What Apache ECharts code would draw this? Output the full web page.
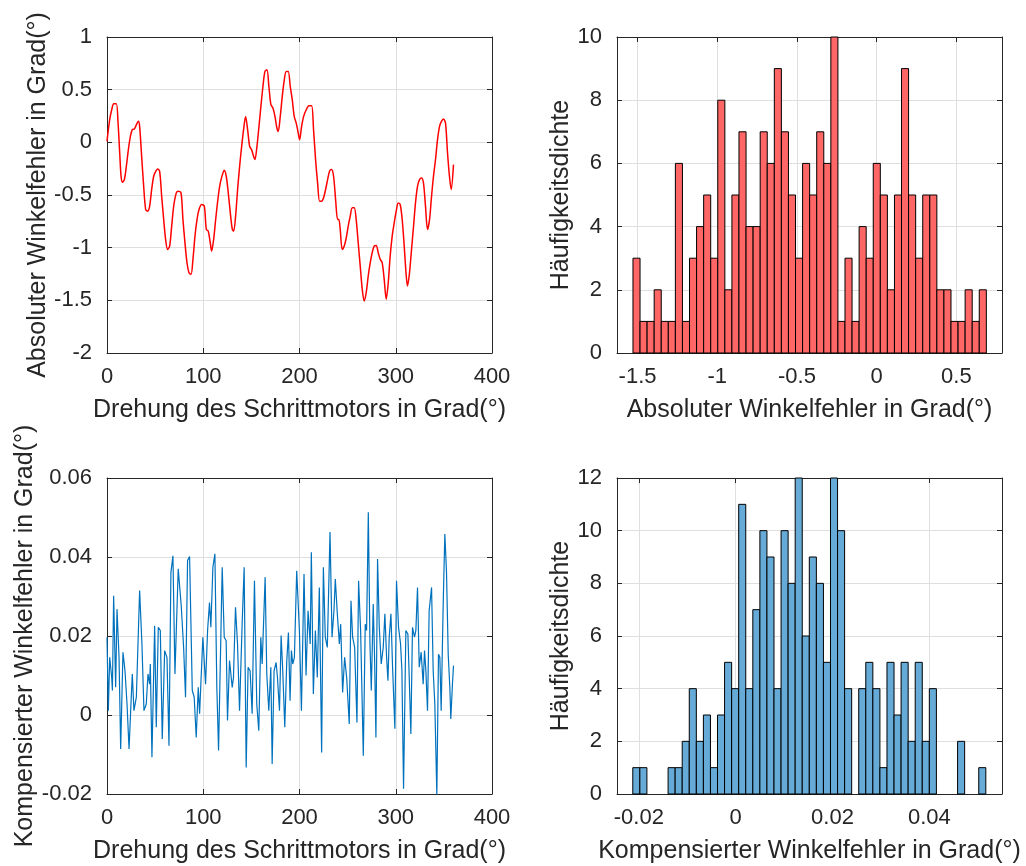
<!DOCTYPE html>
<html>
<head>
<meta charset="utf-8">
<script src="https://cdn.jsdelivr.net/npm/echarts@6/dist/echarts.min.js"></script>
<style>
html, body { margin: 0; padding: 0; background: #fff; }
#chart { width: 1026px; height: 866px; }
</style>
</head>
<body>
<div id="chart"></div>
<script>
// absolute error vs. motor angle (degrees)
var angleTop = [0,2.8,4.9,7.0,9.7,11.5,13.2,14.6,16.0,18.0,20.1,22.2,24.3,26.3,28.4,30.5,32.6,33.9,36.0,38.1,40.2,42.3,44.3,46.4,48.5,50.6,52.6,54.7,56.8,58.9,60.9,63.0,65.1,67.2,69.3,72.0,74.1,76.9,78.9,81.0,83.1,85.2,87.3,89.3,91.4,93.5,95.6,98.3,101.1,103.2,105.2,107.3,108.7,110.8,112.9,115.6,117.7,120.5,121.9,123.9,126.0,128.1,130.2,131.6,133.6,135.7,137.8,139.9,141.9,144.0,146.1,148.2,150.2,152.3,153.7,155.8,157.9,159.9,162.0,164.1,166.2,168.2,170.3,172.4,174.5,176.5,177.9,180.0,182.1,184.2,186.2,188.3,190.4,192.5,194.5,196.6,198.7,
  200.1,202.2,204.3,207.0,209.8,212.6,214.6,216.7,218.8,220.9,222.9,225.0,227.1,229.2,231.2,233.3,235.4,237.5,239.6,240.9,242.3,244.4,246.5,248.6,250.6,252.7,254.8,256.9,258.9,261.0,263.1,265.2,267.2,269.3,271.4,273.5,275.5,277.6,279.7,281.8,283.9,285.9,288.0,290.1,292.2,294.2,296.3,298.4,300.5,302.5,304.6,306.7,308.8,310.9,312.2,314.3,316.4,318.5,320.5,322.6,324.7,326.8,328.8,330.9,333.0,335.1,337.2,339.2,341.3,343.4,345.5,347.5,349.6,351.7,353.8,355.8,357.6,360];
var errTop = [0.01,0.215,0.309,0.366,0.366,0.183,-0.101,-0.322,-0.379,-0.354,-0.227,-0.069,0.057,0.12,0.126,0.167,0.199,0.152,-0.133,-0.417,-0.638,-0.654,-0.606,-0.448,-0.322,-0.275,-0.253,-0.275,-0.512,-0.733,-0.922,-1.017,-0.985,-0.796,-0.606,-0.48,-0.464,-0.48,-0.733,-0.954,-1.143,-1.238,-1.254,-1.111,-0.89,-0.733,-0.638,-0.59,-0.606,-0.827,-0.843,-0.954,-1.033,-0.922,-0.733,-0.512,-0.385,-0.29,-0.265,-0.322,-0.48,-0.669,-0.827,-0.843,-0.701,-0.448,-0.227,-0.038,0.12,0.246,0.12,-0.038,-0.069,-0.133,-0.164,-0.038,0.152,0.341,0.53,0.673,0.688,0.53,0.357,0.325,0.246,0.136,0.104,0.246,0.436,0.594,0.673,0.673,0.53,0.404,0.246,0.183,0.088,
  0.025,0.152,0.246,0.309,0.347,0.347,0.12,-0.164,-0.385,-0.559,-0.559,-0.527,-0.448,-0.354,-0.275,-0.259,-0.322,-0.543,-0.733,-0.733,-0.827,-1.017,-0.985,-0.906,-0.796,-0.701,-0.622,-0.622,-0.733,-0.954,-1.175,-1.396,-1.506,-1.427,-1.269,-1.143,-1.048,-0.985,-0.979,-1.048,-1.111,-1.143,-1.301,-1.49,-1.333,-1.08,-0.89,-0.764,-0.654,-0.575,-0.59,-0.733,-0.985,-1.269,-1.364,-1.238,-1.017,-0.796,-0.575,-0.417,-0.354,-0.338,-0.385,-0.606,-0.827,-0.733,-0.512,-0.322,-0.164,0.025,0.152,0.199,0.221,0.183,-0.101,-0.322,-0.448,-0.212];

// compensated error vs. motor angle
var angleBot = [0,1.4,2.8,4.9,5.6,6.9,9.0,10.4,12.5,14.2,16.6,18.7,20.8,22.9,24.9,26.3,28.0,30.5,32.2,33.9,36.3,38.4,40.8,42.6,44.3,45.0,46.7,49.5,51.2,53.3,55.4,57.4,59.9,62.3,64.4,66.4,68.5,70.6,74.0,77.1,79.6,81.6,83.7,85.8,88.6,90.6,92.7,94.8,96.2,99.6,102.4,104.5,106.5,107.9,110.0,112.1,114.1,115.9,118.3,119.7,121.8,123.8,125.2,127.3,130.1,131.4,133.5,135.6,137.7,140.4,142.5,144.6,146.6,148.7,150.8,153.2,155.6,157.7,159.8,161.2,162.6,164.3,166.0,168.1,170.2,171.6,173.6,175.7,177.1,179.2,180.9,182.6,184.7,186.8,188.5,190.2,191.6,193.0,194.7,197.1,
  199.9,202.0,204.7,206.8,208.9,211.1,212.3,214.4,216.5,218.5,220.6,223.0,224.8,226.8,228.9,231.7,233.8,235.8,237.2,239.3,241.4,242.8,244.8,246.9,249.0,251.7,253.5,255.2,257.3,259.7,261.4,263.5,266.3,268.3,269.7,271.5,273.2,274.6,276.6,278.0,279.4,281.1,282.9,284.9,287.0,288.7,290.5,291.9,293.2,295.0,296.7,299.1,300.8,302.9,305.0,306.4,308.1,310.5,312.6,314.0,315.7,317.4,319.5,320.9,322.6,324.4,326.4,328.5,329.9,331.3,333.0,334.7,337.2,338.9,340.6,342.7,344.4,345.8,347.2,349.3,351.0,352.7,354.5,356.2,357.2,358.9,360];
var errBot = [0.0197,0.0011,0.0146,0.0095,0.0062,0.0302,0.0070,0.0268,0.0146,-0.0086,0.0159,0.0112,0.0028,-0.0086,0.0028,0.0104,0.0011,0.0045,0.0045,0.0315,0.0180,0.0011,0.0028,0.0104,0.0078,0.0129,-0.0107,0.0226,-0.0031,0.0222,0.0214,-0.0061,0.0163,0.0146,-0.0078,0.0361,0.0403,0.0104,0.0370,0.0277,0.0171,0.0045,0.0391,0.0401,0.0062,0.0045,-0.0057,0.0070,0.0003,0.0197,0.0078,0.0214,0.0285,0.0222,0.0374,0.0408,0.0070,-0.0090,0.0201,0.0374,0.0197,0.0188,-0.0014,0.0138,0.0070,0.0095,0.0273,0.0180,0.0011,0.0230,0.0374,-0.0133,0.0121,0.0112,0.0003,0.0340,0.0028,-0.0040,0.0197,0.0129,0.0133,0.0349,0.0104,0.0011,0.0121,-0.0124,0.0112,0.0133,0.0095,0.0011,0.0201,0.0112,-0.0031,0.0138,0.0209,0.0036,0.0163,0.0129,0.0146,0.0365,
  0.0214,0.0011,0.0357,0.0100,0.0264,0.0180,0.0412,0.0053,0.0214,0.0095,0.0323,-0.0095,0.0374,0.0197,0.0171,0.0463,0.0197,0.0264,0.0344,0.0256,0.0180,0.0230,0.0057,0.0146,0.0095,-0.0023,0.0289,0.0197,0.0171,-0.0019,0.0340,0.0214,-0.0103,0.0230,0.0214,0.0513,0.0180,0.0062,0.0281,0.0146,-0.0057,0.0395,0.0222,0.0129,0.0171,0.0256,0.0146,0.0087,0.0197,0.0256,0.0121,-0.0035,0.0340,0.0222,0.0180,0.0112,-0.0187,0.0214,0.0205,0.0095,-0.0048,0.0222,0.0197,0.0214,0.0323,0.0121,0.0159,0.0078,0.0163,0.0112,0.0011,0.0264,0.0323,0.0112,0.0028,-0.0204,0.0154,0.0146,0.0011,0.0281,0.0458,0.0365,0.0154,0.0070,-0.0010,0.0078,0.0125];

// histogram counts, 50 bins each
var countsTop = [3,1,1,2,1,1,6,1,3,4,5,3,8,2,5,7,4,4,7,6,9,7,5,3,6,5,7,6,10,1,3,1,4,3,6,5,2,5,9,5,3,5,5,2,2,1,1,2,1,2];
var binStartTop = -1.5288, binWidthTop = 0.04433;
var countsBot = [1,1,0,0,0,1,1,2,4,2,3,1,3,5,4,11,4,7,10,9,4,10,8,12,6,9,8,5,12,10,4,0,4,5,4,1,5,3,5,2,5,2,4,0,0,0,2,0,0,1];
var binStartBot = -0.02124, binWidthBot = 0.001458;

// tick labels
var ticksAngle = [0, 100, 200, 300, 400];
var ticksErrTop = [-2, -1.5, -1, -0.5, 0, 0.5, 1];
var ticksHistTopX = [-1.5, -1, -0.5, 0, 0.5];
var ticksHistTopY = [0, 2, 4, 6, 8, 10];
var ticksErrBot = [-0.02, 0, 0.02, 0.04, 0.06];
var ticksHistBotX = [-0.02, 0, 0.02, 0.04];
var ticksHistBotY = [0, 2, 4, 6, 8, 10, 12];

var FONT = 'Liberation Sans';
var axisColor = '#262626';
var gridColor = '#dfdfdf';

function pairs(xs, ys) {
  var out = [];
  for (var i = 0; i < xs.length; i++) out.push([xs[i], ys[i]]);
  return out;
}

function bins(counts, start, width) {
  var out = [];
  for (var i = 0; i < counts.length; i++) {
    if (counts[i] > 0) out.push([start + i * width, start + (i + 1) * width, counts[i]]);
  }
  return out;
}

function histItem(fill) {
  return function (params, api) {
    var p0 = api.coord([api.value(0), api.value(2)]);
    var p1 = api.coord([api.value(1), 0]);
    return {
      type: 'rect',
      shape: { x: p0[0], y: p0[1], width: p1[0] - p0[0], height: p1[1] - p0[1] },
      style: { fill: fill, stroke: '#000', lineWidth: 1 }
    };
  };
}

function mainAxis(gi, pos, min, max, ticks, name, gap) {
  return {
    type: 'value', gridIndex: gi, position: pos, min: min, max: max,
    name: name, nameLocation: 'middle', nameGap: gap,
    nameTextStyle: { fontFamily: FONT, fontSize: 25, color: axisColor },
    axisLine: { show: true, onZero: false, lineStyle: { color: axisColor, width: 1 } },
    axisTick: { show: true, inside: true, length: 5, customValues: ticks, lineStyle: { color: axisColor } },
    axisLabel: { customValues: ticks, margin: (pos === 'bottom' ? 13 : 15), fontFamily: FONT, fontSize: 22, color: axisColor },
    splitLine: { show: true, lineStyle: { color: gridColor, width: 1 } }
  };
}

function boxAxis(gi, pos, min, max, ticks) {
  return {
    type: 'value', gridIndex: gi, position: pos, min: min, max: max,
    axisLine: { show: true, onZero: false, lineStyle: { color: axisColor, width: 1 } },
    axisTick: { show: true, inside: true, length: 5, customValues: ticks, lineStyle: { color: axisColor } },
    axisLabel: { show: false },
    splitLine: { show: false }
  };
}

var chart = echarts.init(document.getElementById('chart'));

var option = {
  animation: false,
  backgroundColor: '#fff',
  grid: [
    { left: 107, top: 37, width: 385, height: 316 },
    { left: 617, top: 37, width: 385, height: 316 },
    { left: 107, top: 478, width: 385, height: 316 },
    { left: 617, top: 478, width: 385, height: 316 }
  ],
  xAxis: [
    mainAxis(0, 'bottom', 0, 400, ticksAngle, 'Drehung des Schrittmotors in Grad(°)', 45),
    mainAxis(1, 'bottom', -1.629, 0.786, ticksHistTopX, 'Absoluter Winkelfehler in Grad(°)', 45),
    mainAxis(2, 'bottom', 0, 400, ticksAngle, 'Drehung des Schrittmotors in Grad(°)', 45),
    mainAxis(3, 'bottom', -0.0245, 0.055, ticksHistBotX, 'Kompensierter Winkelfehler in Grad(°)', 45),
    boxAxis(0, 'top', 0, 400, ticksAngle),
    boxAxis(1, 'top', -1.629, 0.786, ticksHistTopX),
    boxAxis(2, 'top', 0, 400, ticksAngle),
    boxAxis(3, 'top', -0.0245, 0.055, ticksHistBotX)
  ],
  yAxis: [
    mainAxis(0, 'left', -2, 1, ticksErrTop, 'Absoluter Winkelfehler in Grad(°)', 27),
    mainAxis(1, 'left', 0, 10, ticksHistTopY, 'Häufigkeitsdichte', 42),
    mainAxis(2, 'left', -0.02, 0.06, ticksErrBot, 'Kompensierter Winkelfehler in Grad(°)', 67),
    mainAxis(3, 'left', 0, 12, ticksHistBotY, 'Häufigkeitsdichte', 42),
    boxAxis(0, 'right', -2, 1, ticksErrTop),
    boxAxis(1, 'right', 0, 10, ticksHistTopY),
    boxAxis(2, 'right', -0.02, 0.06, ticksErrBot),
    boxAxis(3, 'right', 0, 12, ticksHistBotY)
  ],
  series: [
    {
      type: 'line', xAxisIndex: 0, yAxisIndex: 0,
      data: pairs(angleTop, errTop),
      showSymbol: false, smooth: 0.3,
      lineStyle: { color: '#ff0000', width: 1.5 }
    },
    {
      type: 'custom', xAxisIndex: 1, yAxisIndex: 1,
      renderItem: histItem('rgb(255,102,102)'),
      encode: { x: [0, 1], y: 2 },
      data: bins(countsTop, binStartTop, binWidthTop)
    },
    {
      type: 'line', xAxisIndex: 2, yAxisIndex: 2,
      data: pairs(angleBot, errBot),
      showSymbol: false,
      lineStyle: { color: '#0072bd', width: 1.2 }
    },
    {
      type: 'custom', xAxisIndex: 3, yAxisIndex: 3,
      renderItem: histItem('rgb(102,170,215)'),
      encode: { x: [0, 1], y: 2 },
      data: bins(countsBot, binStartBot, binWidthBot)
    }
  ]
};

chart.setOption(option);
</script>
</body>
</html>
